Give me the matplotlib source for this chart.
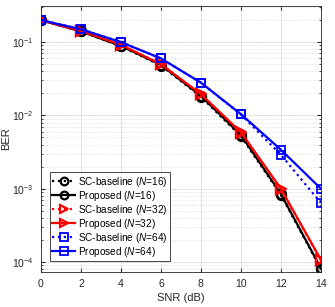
import numpy as np
import matplotlib
matplotlib.use("Agg")
import matplotlib.pyplot as plt
from matplotlib.ticker import LogLocator, NullFormatter

plt.rcParams['font.family'] = ['Liberation Sans', 'DejaVu Sans']
plt.rcParams['mathtext.fontset'] = 'custom'
plt.rcParams['mathtext.rm'] = 'Liberation Sans'
plt.rcParams['mathtext.it'] = 'Liberation Sans:italic'

# SNR points
snr = [0, 2, 4, 6, 8, 10, 12, 14]

# BER curves
sc_16 = [0.20, 0.14, 0.088, 0.048, 0.018, 0.0052, 0.00082, 0.000080]
prop_16 = [0.20, 0.14, 0.089, 0.049, 0.0185, 0.0054, 0.00085, 0.000082]
sc_32 = [0.20, 0.142, 0.092, 0.050, 0.0195, 0.0058, 0.00098, 0.000105]
prop_32 = [0.20, 0.142, 0.092, 0.050, 0.0195, 0.0059, 0.0010, 0.000107]
sc_64 = [0.20, 0.15, 0.10, 0.060, 0.028, 0.0103, 0.0029, 0.00064]
prop_64 = [0.20, 0.15, 0.10, 0.060, 0.028, 0.0104, 0.0034, 0.00100]

labels = [r'SC-baseline ($N$=16)', r'Proposed ($N$=16)',
          r'SC-baseline ($N$=32)', r'Proposed ($N$=32)',
          r'SC-baseline ($N$=64)', r'Proposed ($N$=64)']

fig = plt.figure(figsize=(3.35, 3.07), dpi=100)
ax = fig.add_axes([0.122, 0.114, 0.836, 0.866])

lw = 1.6
ax.semilogy(snr, sc_16, ':', color='k', marker='o', mfc='none', ms=6.5, mew=1.6, lw=lw, label=labels[0])
ax.semilogy(snr, prop_16, '-', color='k', marker='o', mfc='none', ms=6.5, mew=1.6, lw=lw, label=labels[1])
ax.semilogy(snr, sc_32, ':', color='r', marker='>', mfc='none', ms=7.5, mew=1.6, lw=lw, label=labels[2])
ax.semilogy(snr, prop_32, '-', color='r', marker='>', mfc='none', ms=7.5, mew=1.6, lw=lw, label=labels[3])
ax.semilogy(snr, sc_64, ':', color='b', marker='s', mfc='none', ms=6, mew=1.3, lw=lw, label=labels[4])
ax.semilogy(snr, prop_64, '-', color='b', marker='s', mfc='none', ms=6, mew=1.3, lw=lw, label=labels[5])

ax.set_xlim(0, 14)
ax.set_ylim(7.3e-5, 0.31)
ax.set_xticks(np.arange(0, 15, 2))
ax.yaxis.set_major_locator(LogLocator(base=10, numticks=10))
ax.yaxis.set_minor_locator(LogLocator(base=10, subs=np.arange(2, 10), numticks=20))
ax.yaxis.set_minor_formatter(NullFormatter())

ax.grid(True, which='major', color='#dcdcdc', lw=0.6)
ax.grid(True, which='minor', axis='y', color='#dcdcdc', lw=0.5, ls=(0, (2, 2)))
ax.set_axisbelow(True)
ax.tick_params(which='both', direction='in', top=True, right=True, labelsize=7.5, colors='#262626')
ax.tick_params(which='major', length=3, pad=5)
ax.tick_params(which='minor', length=1.5)
for s in ax.spines.values():
    s.set_color('#262626')
    s.set_linewidth(0.6)

ax.set_xlabel('SNR (dB)', fontsize=8, color='#262626', labelpad=3)
ax.set_ylabel('BER', fontsize=8, color='#262626', labelpad=1)

leg = ax.legend(loc='lower left', bbox_to_anchor=(0.032, 0.04), fontsize=7.2,
                handlelength=2.3, handletextpad=0.25, borderpad=0.25,
                labelspacing=0.0, fancybox=False, framealpha=1,
                markerscale=0.85, edgecolor='#262626', borderaxespad=0)
leg.get_frame().set_linewidth(0.6)

fig.savefig('out.png', dpi=100)
